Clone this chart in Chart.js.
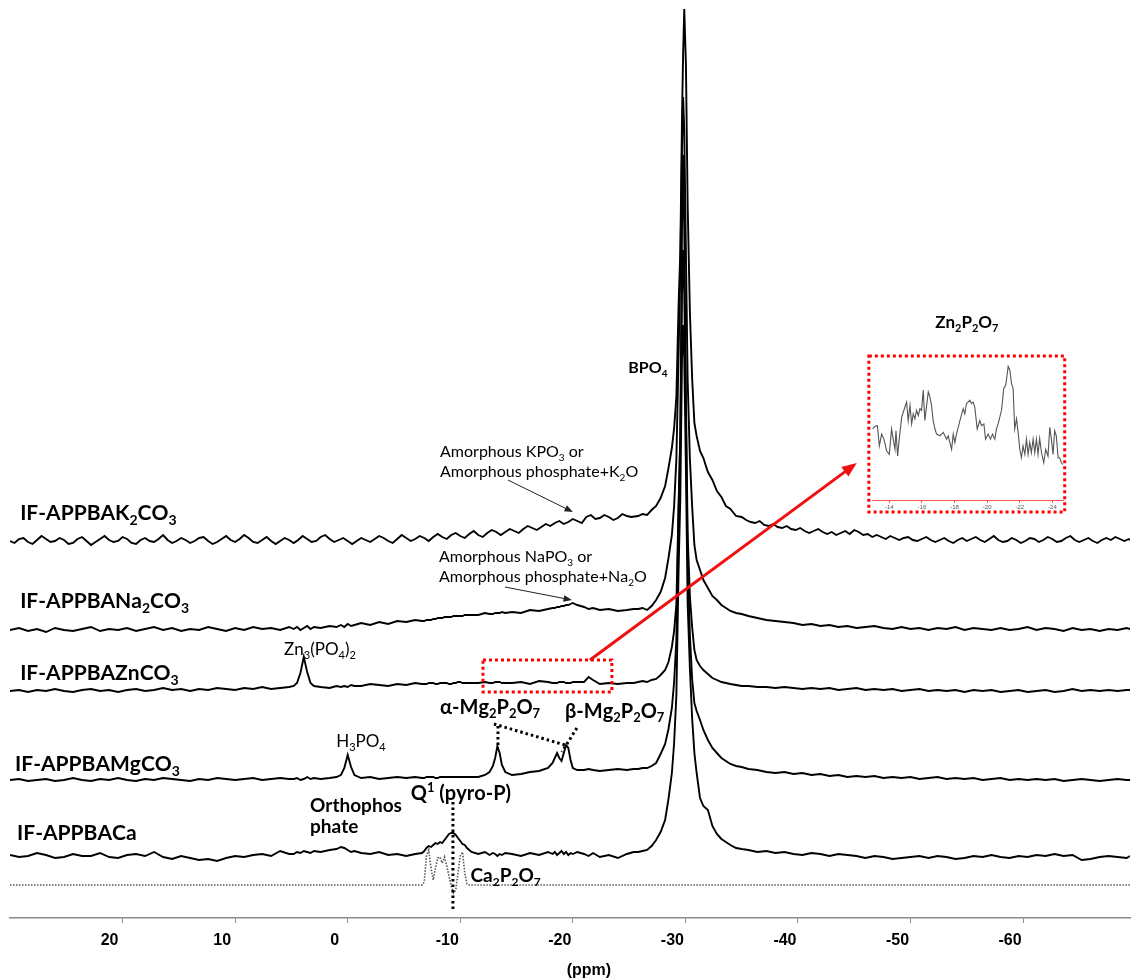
<!DOCTYPE html>
<html>
<head>
<meta charset="utf-8">
<title>31P NMR spectra</title>
<script src="https://cdn.jsdelivr.net/npm/chart.js@4/dist/chart.umd.min.js"></script>
<style>
  html, body { margin: 0; padding: 0; background: #fff; }
  #wrap { position: relative; width: 1132px; height: 979px; }
  #main { position: absolute; left: 0; top: 0; }
  #inset { position: absolute; }
</style>
</head>
<body>
<div id="wrap">
  <canvas id="main" width="1132" height="979"></canvas>
  <canvas id="inset"></canvas>
</div>
<script>
// chemical shift grid (ppm), shared by the Na, Zn, Mg and Ca spectra
const ppmGrid = [
  30, 29.2, 28.4, 27.6, 26.8, 26, 25.2, 24.4, 23.6, 22.8, 22, 21.2, 20.4, 19.6, 18.8, 18,
  17.2, 16.4, 15.6, 14.8, 14, 13.2, 12.4, 11.6, 10.8, 10, 9.2, 8.4, 7.6, 6.8, 6, 5.2,
  4.8, 4.5, 4.2, 3.9, 3.6, 3.3, 3,
  2.4, 1.6, 1,
  0.6, 0.3, 0, -0.3, -0.6,
  -1.2, -2, -2.8, -3.6, -4.4, -5.2, -6,
  -6.6, -6.8, -7, -7.2, -7.4, -7.6, -7.8, -8, -8.2, -8.4, -8.6, -8.8, -9, -9.2, -9.4, -9.6,
  -9.8, -10, -10.2, -10.4, -10.6, -10.8, -11,
  -11.6, -12.2,
  -12.6, -12.9, -13.1, -13.3, -13.5, -13.7, -14,
  -14.6, -15.4, -16.2, -17, -17.8,
  -18.2, -18.4, -18.6, -18.8, -19, -19.2, -19.4, -19.6, -19.8, -20, -20.4,
  -21, -21.4, -21.8, -22.4, -23.2, -24, -24.8, -25.4,
  -25.8, -26.2, -26.6, -27, -27.4, -27.8, -28.2, -28.5, -28.8, -29, -29.2, -29.4, -29.55, -29.7, -29.8, -29.9,
  -30.05, -30.2, -30.4, -30.6, -30.8, -31, -31.3, -31.6, -32, -32.4, -32.8, -33.2, -33.6, -34, -34.5, -35,
  -35.6, -36.4, -37.2, -38, -38.8, -39.6, -40.4, -41.2, -42, -42.8, -43.6, -44.4, -45.2, -46, -46.8,
  -47.6, -48.4, -49.2, -50, -50.8, -51.6, -52.4, -53.2, -54, -54.8, -55.6, -56.4, -57.2, -58, -58.8,
  -59.6, -60.4, -61.2, -62, -62.8, -63.6, -64.4, -65.2, -66, -66.8, -67.6, -68.4, -69.2, -69.5
];

// the noisier K2CO3 spectrum has its own, finer grid
const ppmK2CO3 = [
  30, 29.6, 29.2, 28.8, 28.4, 28, 27.6, 27.2, 26.8, 26.4,
  26, 25.6, 25.2, 24.8, 24.4, 24, 23.6, 23.2, 22.8, 22.4,
  22, 21.6, 21.2, 20.8, 20.4, 20, 19.6, 19.2, 18.8, 18.4,
  18, 17.6, 17.2, 16.8, 16.4, 16, 15.6, 15.2, 14.8, 14.4,
  14, 13.6, 13.2, 12.8, 12.4, 12, 11.6, 11.2, 10.8, 10.4,
  10, 9.6, 9.2, 8.8, 8.4, 8, 7.6, 7.2, 6.8, 6.4,
  6, 5.6, 5.2, 4.8, 4.4, 4, 3.6, 3.2, 2.8, 2.4,
  2, 1.6, 1.2, 0.8, 0.4, 0, -0.4, -0.8, -1.2, -1.6,
  -2, -2.4, -2.8, -3.2, -3.6, -4, -4.4, -4.8, -5.2, -5.6,
  -6, -6.4, -6.8, -7.2, -7.6, -8, -8.4, -8.8, -9.2, -9.6,
  -10, -10.4, -10.8, -11.2, -11.6, -12, -12.4, -12.8, -13.2, -13.6,
  -14, -14.4, -14.8, -15.2, -15.6, -16, -16.4, -16.8, -17.2, -17.6,
  -18, -18.4, -18.8, -19.2, -19.6, -20, -20.4, -20.8, -21.2, -21.6,
  -22, -22.4, -22.8, -23.2, -23.6, -24, -24.4, -24.8, -25.2,
  -25.8, -26.2, -26.6, -27, -27.4, -27.8, -28.2, -28.5, -28.8, -29, -29.2, -29.4, -29.55, -29.7, -29.8, -29.9,
  -30.05, -30.2, -30.4, -30.6, -30.8, -31, -31.3, -31.6, -32, -32.4, -32.8, -33.2, -33.6, -34, -34.5, -35,
  -35.4, -35.8, -36.2, -36.6, -37, -37.4, -37.8, -38.2, -38.6, -39,
  -39.4, -39.8, -40.2, -40.6, -41, -41.4, -41.8, -42.2, -42.6, -43,
  -43.4, -43.8, -44.2, -44.6, -45, -45.4, -45.8, -46.2, -46.6, -47,
  -47.4, -47.8, -48.2, -48.6, -49, -49.4, -49.8, -50.2, -50.6, -51,
  -51.4, -51.8, -52.2, -52.6, -53, -53.4, -53.8, -54.2, -54.6, -55,
  -55.4, -55.8, -56.2, -56.6, -57, -57.4, -57.8, -58.2, -58.6, -59,
  -59.4, -59.8, -60.2, -60.6, -61, -61.4, -61.8, -62.2, -62.6, -63,
  -63.4, -63.8, -64.2, -64.6, -65, -65.4, -65.8, -66.2, -66.6, -67,
  -67.4, -67.8, -68.2, -68.6, -69, -69.4, -69.5
];

// stacked intensities (arbitrary units, offsets included)
const intK2CO3 = [
  377, 375, 379, 380, 376, 374, 378, 382, 379, 376,
  377, 380, 378, 374, 375, 379, 381, 377, 373, 376,
  379, 382, 378, 376, 377, 381, 379, 375, 374, 378,
  380, 377, 376, 379, 383, 378, 375, 377, 380, 378,
  375, 377, 380, 381, 377, 374, 376, 379, 382, 378,
  376, 379, 383, 380, 376, 375, 378, 381, 377, 374,
  377, 380, 378, 375, 378, 382, 379, 376, 377, 381,
  383, 379, 376, 378, 380, 377, 374, 377, 380, 378,
  376, 379, 382, 380, 377, 375, 379, 383, 380, 377,
  379, 382, 380, 377, 381, 384, 381, 379, 383, 385,
  382, 380, 384, 387, 383, 381, 385, 388, 386, 383,
  386, 389, 387, 385, 389, 392, 390, 388, 391, 394,
  392, 395, 397, 394, 396, 399, 397, 395, 401, 403,
  399, 400, 403, 401, 398, 400, 404, 402, 401,
  402, 404, 403, 408, 412, 420, 432, 450, 470, 490, 521, 615, 665, 800, 865, 909,
  853, 715, 606, 540, 495, 482, 467, 460, 446, 438, 427, 421, 412, 409, 402, 401,
  398, 396, 395, 397, 393, 392, 394, 391, 390, 392,
  389, 388, 390, 387, 385, 387, 389, 386, 384, 386,
  383, 385, 387, 384, 388, 386, 383, 384, 381, 383,
  381, 379, 382, 380, 378, 380, 381, 378, 377, 379,
  381, 378, 376, 378, 380, 377, 375, 378, 380, 377,
  379, 381, 378, 376, 379, 382, 378, 376, 377, 380,
  378, 375, 377, 380, 379, 376, 378, 381, 379, 376,
  377, 380, 382, 378, 376, 378, 380, 377, 375, 378,
  380, 378, 381, 379, 377, 379, 378
];
const intNa2CO3 = [
  288, 290, 287, 289, 286, 290, 288, 287, 289, 291, 287, 289, 288, 290, 287, 289,
  291, 288, 290, 287, 289, 288, 291, 289, 287, 290, 288, 291, 289, 290, 288, 291,
  289, 291, 288, 290, 292, 289, 291,
  290, 292, 291,
  293, 291, 294, 292, 293,
  295, 293, 296, 294, 297, 296, 298,
  297, 297, 298, 298, 298, 299, 299, 300, 300, 300, 301, 301, 301, 301, 302, 302,
  302, 302, 302, 303, 303, 303, 303,
  303, 305,
  304, 304, 305, 305, 305, 306, 305,
  306, 305, 308, 307, 309,
  310, 310, 311, 311, 312, 312, 313, 313, 314, 315, 313,
  311, 309, 310, 308, 309, 307, 308, 309,
  309, 310, 308, 312, 318, 326, 340, 360, 383, 412, 459, 565, 650, 770, 821, 788,
  664, 539, 459, 412, 373, 358, 348, 338, 330, 322, 318, 313, 310, 307, 305, 304,
  302, 300, 298, 297, 296, 295, 293, 294, 292, 293, 291, 292, 290, 291, 292,
  290, 289, 291, 289, 290, 288, 290, 289, 291, 288, 290, 289, 288, 290, 288,
  289, 291, 288, 290, 289, 287, 290, 288, 289, 287, 289, 288, 290, 289
];
const intZnCO3 = [
  227, 228, 226, 228, 227, 229, 227, 226, 228, 229, 227, 228, 226, 228, 229, 227,
  228, 230, 228, 229, 227, 229, 228, 230, 229, 228, 230, 229, 231, 229, 230, 231,
  232, 235, 245, 261, 246, 235, 232,
  231, 230, 232,
  231, 232, 231, 233, 232,
  232, 234, 233, 232, 234, 233, 235,
  234, 234, 234, 235, 235, 235, 234, 234, 235, 235, 235, 235, 234, 234, 235, 235,
  236, 236, 235, 235, 235, 235, 235,
  235, 236,
  235, 235, 236, 236, 236, 235, 235,
  235, 236, 234, 237, 236,
  235, 235, 235, 236, 236, 236, 235, 235, 235, 236, 236,
  236, 241, 238, 234, 235, 234, 235, 235,
  236, 237, 236, 238, 239, 243, 248, 256, 271, 287, 314, 414, 482, 690, 763, 690,
  518, 384, 322, 291, 268, 258, 252, 248, 244, 240, 238, 236, 235, 234, 233, 232,
  232, 231, 231, 230, 231, 230, 229, 230, 229, 230, 228, 229, 230, 228, 229,
  228, 229, 227, 228, 229, 227, 228, 227, 228, 226, 228, 227, 228, 226, 227,
  228, 226, 227, 228, 226, 227, 229, 227, 228, 227, 228, 227, 228, 228
];
const intMgCO3 = [
  138, 139, 137, 138, 139, 137, 138, 140, 138, 137, 139, 138, 140, 138, 137, 139,
  138, 140, 139, 138, 137, 139, 138, 140, 139, 138, 139, 140, 138, 139, 140, 139,
  139, 140, 138, 139, 141, 139, 140,
  139, 140, 141,
  143, 150, 163, 151, 143,
  140, 141, 139, 140, 141, 140, 141,
  140, 140, 141, 141, 141, 141, 140, 140, 141, 141, 141, 141, 141, 141, 141, 141,
  141, 141, 141, 141, 141, 141, 141,
  141, 143,
  146, 152, 160, 172, 165, 153, 146,
  143, 144, 146, 147, 150,
  155, 160, 165, 160, 157, 165, 173, 170, 158, 150, 148,
  148, 149, 148, 147, 148, 149, 148, 149,
  149, 150, 150, 152, 155, 164, 174, 189, 210, 236, 278, 409, 482, 625, 668, 625,
  498, 362, 283, 239, 215, 207, 198, 188, 178, 170, 165, 160, 157, 154, 152, 151,
  149, 148, 146, 145, 146, 144, 145, 143, 144, 142, 143, 141, 142, 141, 142,
  140, 141, 140, 141, 139, 140, 141, 139, 140, 139, 140, 138, 139, 140, 138,
  139, 138, 139, 138, 139, 137, 138, 139, 138, 137, 138, 139, 138, 138
];
const intCa = [
  63, 61, 62, 65, 63, 60, 61, 64, 62, 62, 65, 61, 60, 63, 64, 62,
  66, 61, 59, 62, 60, 58, 59, 57, 60, 62, 61, 63, 64, 62, 67, 64,
  64, 66, 65, 67, 66, 65, 67,
  66, 68, 69,
  71, 70, 68, 66, 67,
  65, 64, 66, 63, 64, 62, 64,
  65, 67, 70, 72, 71, 73, 75, 74, 76, 75, 78, 81, 84, 85, 85, 83,
  80, 77, 74, 73, 70, 68, 66,
  64, 66,
  63, 65, 64, 62, 64, 63, 65,
  64, 62, 65, 63, 66,
  64, 66, 63, 65, 67, 64, 66, 63, 65, 64, 66,
  64, 62, 65, 61, 63, 60, 64, 66,
  66, 67, 68, 72, 78, 86, 98, 119, 145, 175, 223, 350, 420, 560, 593, 560,
  448, 315, 250, 200, 165, 145, 120, 112, 108, 92, 84, 79, 76, 73, 70, 69,
  68, 66, 67, 65, 66, 64, 63, 65, 64, 62, 64, 63, 62, 60, 62,
  61, 59, 60, 61, 62, 60, 62, 61, 59, 60, 62, 61, 63, 61, 60,
  62, 61, 63, 62, 64, 62, 63, 58, 59, 61, 62, 61, 60, 62
];

// Ca2P2O7 reference (dotted trace)
const refPpm = [30, -6.6, -6.8, -7, -7.2, -7.4, -7.6, -7.8, -8, -8.2, -8.4, -8.6, -8.8,
  -9, -9.2, -9.4, -9.6, -9.8, -10, -10.2, -10.4, -10.6, -10.8, -11, -69.5];
const refInt = [33, 33, 36, 62, 68, 50, 38, 50, 60, 61, 55, 61, 52,
  42, 32, 25, 28, 45, 62, 66, 45, 34, 33, 33, 33];

const tickVals = [20, 10, 0, -10, -20, -30, -40, -50, -60];

// zoomed Zn2P2O7 region (inset)
const insetPpm = [
  -12.98, -13.12, -13.27, -13.39, -13.53, -13.67, -13.84, -14.00, -14.14, -14.24, -14.35, -14.41,
  -14.51, -14.61, -14.76, -14.96, -15.06, -15.16, -15.27, -15.37, -15.47, -15.57, -15.67, -15.78,
  -15.88, -15.98, -16.08, -16.18, -16.29, -16.39, -16.49, -16.59, -16.69, -16.80, -16.90, -17.10,
  -17.31, -17.51, -17.61, -17.82, -17.92, -18.02, -18.12, -18.33, -18.53, -18.63, -18.73, -18.94,
  -19.04, -19.14, -19.24, -19.39, -19.55, -19.65, -19.80, -19.90, -20.06, -20.20, -20.33, -20.47,
  -20.57, -20.67, -20.88, -21.02, -21.14, -21.29, -21.39, -21.49, -21.59, -21.69, -21.80, -21.90,
  -22.00, -22.10, -22.20, -22.31, -22.41, -22.51, -22.61, -22.71, -22.82, -22.92, -23.02, -23.12,
  -23.22, -23.33, -23.47, -23.59, -23.73, -23.84, -23.94, -24.04, -24.14, -24.24, -24.35, -24.45,
  -24.55, -24.65
];
const insetInt = [
  210, 218, 220, 160, 195, 180, 145, 135, 210, 180, 150, 205,
  130, 180, 245, 275, 290, 235, 280, 225, 255, 240, 265, 250,
  270, 265, 325, 235, 280, 320, 305, 280, 235, 210, 195, 190,
  200, 180, 190, 150, 195, 170, 195, 235, 270, 255, 285, 295,
  285, 290, 275, 210, 235, 220, 225, 180, 195, 180, 195, 180,
  210, 225, 265, 330, 340, 395, 385, 345, 330, 210, 240, 200,
  150, 125, 160, 135, 180, 135, 170, 140, 180, 140, 180, 135,
  182, 140, 110, 150, 130, 215, 180, 135, 205, 190, 125, 125,
  110, 105
];
const insetTicks = [-14, -16, -18, -20, -22, -24];

// annotation texts, placed in data units (ppm, intensity)
const textNotes = [
  { t: 'IF-APPBAK_2CO_3', x: 29.1, y: 398, size: 21, w: 'bold' },
  { t: 'IF-APPBANa_2CO_3', x: 29.1, y: 310, size: 21, w: 'bold' },
  { t: 'IF-APPBAZnCO_3', x: 29.1, y: 238, size: 21, w: 'bold' },
  { t: 'IF-APPBAMgCO_3', x: 29.55, y: 147, size: 21, w: 'bold' },
  { t: 'IF-APPBACa', x: 29.37, y: 78, size: 21, w: 'bold' },
  { t: 'Amorphous KPO_3 or', x: -8.2, y: 461, size: 16, w: 'normal' },
  { t: 'Amorphous phosphate+K_2O', x: -8.2, y: 441, size: 16, w: 'normal' },
  { t: 'Amorphous NaPO_3 or', x: -8.11, y: 356, size: 16, w: 'normal' },
  { t: 'Amorphous phosphate+Na_2O', x: -8.11, y: 336, size: 16, w: 'normal' },
  { t: 'BPO_4', x: -26.67, y: 545, size: 16, w: 'bold', align: 'center' },
  { t: 'Zn_3(PO_4)_2', x: 2.46, y: 263, size: 17, w: 'normal', align: 'center' },
  { t: 'H_3PO_4', x: -1.18, y: 171, size: 17, w: 'normal', align: 'center' },
  { t: 'Orthophos', x: 3.35, y: 106, size: 19, w: 'bold' },
  { t: 'phate', x: 3.35, y: 85, size: 19, w: 'bold' },
  { t: 'Q^1 (pyro-P)', x: -10.06, y: 118, size: 20, w: 'bold', align: 'center' },
  { t: 'Ca_2P_2O_7', x: -10.91, y: 36, size: 19, w: 'bold' },
  { t: 'α-Mg_2P_2O_7', x: -8.2, y: 204, size: 20, w: 'bold' },
  { t: 'β-Mg_2P_2O_7', x: -19.3, y: 200, size: 20, w: 'bold' },
  { t: 'Zn_2P_2O_7', x: -55.0, y: 590, size: 17, w: 'bold', align: 'center' },
  { t: '(ppm)', x: -21.43, y: -57, size: 16, w: 'bold', align: 'center', fam: '"Liberation Sans", Arial, sans-serif' }
];
const dottedGuides = [
  [-13.35, 192, -13.35, 173],
  [-12.99, 194, -19.3, 173],
  [-20.36, 190, -19.03, 166],
  [-9.35, 116, -9.35, 7]
];
const blackArrows = [
  [-14.24, 438, -20.01, 406],
  [-13.97, 331, -19.92, 318]
];
const zoomBox = [-12.02, 258, -23.47, 226];
const insetBox = [-46.3, 562, -63.7, 406];
const redArrow = [-21.52, 258, -45.23, 455];

const FAM = 'Lato, "Open Sans", "DejaVu Sans", sans-serif';

function drawRich(ctx, text, x, y, size, weight, align, fam) {
  const parts = [];
  for (let i = 0; i < text.length; i++) {
    const c = text[i];
    if ((c === '_' || c === '^') && i + 1 < text.length) {
      parts.push({ t: text[i + 1], k: c });
      i++;
    } else {
      parts.push({ t: c, k: '' });
    }
  }
  const fontFor = k => weight + ' ' + (k ? Math.round(size * 0.65) : size) + 'px ' + (fam || FAM);
  let total = 0;
  parts.forEach(p => {
    ctx.font = fontFor(p.k);
    p.w = ctx.measureText(p.t).width;
    total += p.w;
  });
  let cx = align === 'center' ? x - total / 2 : x;
  ctx.textAlign = 'left';
  ctx.textBaseline = 'alphabetic';
  parts.forEach(p => {
    ctx.font = fontFor(p.k);
    const dy = p.k === '_' ? size * 0.22 : (p.k === '^' ? -size * 0.42 : 0);
    ctx.fillText(p.t, cx, y + dy);
    cx += p.w;
  });
}

function drawArrow(ctx, x1, y1, x2, y2, head, width, color) {
  const ang = Math.atan2(y2 - y1, x2 - x1);
  ctx.strokeStyle = color;
  ctx.fillStyle = color;
  ctx.lineWidth = width;
  ctx.setLineDash([]);
  ctx.beginPath();
  ctx.moveTo(x1, y1);
  ctx.lineTo(x2 - Math.cos(ang) * head * 0.8, y2 - Math.sin(ang) * head * 0.8);
  ctx.stroke();
  ctx.beginPath();
  ctx.moveTo(x2, y2);
  ctx.lineTo(x2 - head * Math.cos(ang - 0.38), y2 - head * Math.sin(ang - 0.38));
  ctx.lineTo(x2 - head * Math.cos(ang + 0.38), y2 - head * Math.sin(ang + 0.38));
  ctx.closePath();
  ctx.fill();
}

const annotationPlugin = {
  id: 'nmrAnnotations',
  afterDatasetsDraw(chart) {
    const ctx = chart.ctx;
    const X = v => chart.scales.x.getPixelForValue(v);
    const Y = v => chart.scales.y.getPixelForValue(v);
    ctx.save();

    // black dotted guides
    ctx.strokeStyle = '#000';
    ctx.lineWidth = 3;
    ctx.setLineDash([2.5, 3]);
    dottedGuides.forEach(g => {
      ctx.beginPath();
      ctx.moveTo(X(g[0]), Y(g[1]));
      ctx.lineTo(X(g[2]), Y(g[3]));
      ctx.stroke();
    });

    // thin pointer arrows
    blackArrows.forEach(a => drawArrow(ctx, X(a[0]), Y(a[1]), X(a[2]), Y(a[3]), 9, 1, '#222'));

    // red dotted boxes
    ctx.strokeStyle = '#ff0000';
    ctx.lineWidth = 3;
    ctx.setLineDash([3, 3]);
    [zoomBox, insetBox].forEach(b => {
      const x1 = X(b[0]), y1 = Y(b[1]), x2 = X(b[2]), y2 = Y(b[3]);
      ctx.strokeRect(x1, y1, x2 - x1, y2 - y1);
    });

    // red arrow to inset
    drawArrow(ctx, X(redArrow[0]), Y(redArrow[1]), X(redArrow[2]), Y(redArrow[3]), 16, 3, '#f01010');

    // texts
    ctx.fillStyle = '#000';
    textNotes.forEach(n => drawRich(ctx, n.t, X(n.x), Y(n.y), n.size, n.w, n.align, n.fam));
    ctx.restore();
  }
};

function makeSet(xs, values, width) {
  return {
    data: xs.map((p, i) => ({ x: p, y: values[i] })),
    borderColor: '#000',
    borderWidth: width,
    pointRadius: 0,
    fill: false
  };
}

const mainChart = new Chart(document.getElementById('main'), {
  type: 'line',
  data: {
    datasets: [
      {
        data: refPpm.map((p, i) => ({ x: p, y: refInt[i] })),
        borderColor: '#555',
        borderWidth: 1.6,
        borderDash: [1.5, 1.5],
        pointRadius: 0,
        fill: false
      },
      makeSet(ppmGrid, intCa, 1.9),
      makeSet(ppmGrid, intMgCO3, 1.9),
      makeSet(ppmGrid, intZnCO3, 1.9),
      makeSet(ppmGrid, intNa2CO3, 1.9),
      makeSet(ppmK2CO3, intK2CO3, 1.9)
    ]
  },
  options: {
    responsive: false,
    animation: false,
    layout: { padding: { left: 10, right: 2, top: 0, bottom: 0 } },
    plugins: { legend: { display: false }, tooltip: { enabled: false } },
    elements: { line: { tension: 0 } },
    scales: {
      x: {
        type: 'linear',
        reverse: true,
        min: -69.5,
        max: 30,
        afterBuildTicks: axis => { axis.ticks = tickVals.map(v => ({ value: v })); },
        afterFit: axis => { axis.height = 61; },
        border: { color: '#8a8a8a', width: 1.5 },
        grid: { drawOnChartArea: false, drawTicks: true, tickLength: 5, color: '#8a8a8a', lineWidth: 1 },
        ticks: {
          autoSkip: false,
          maxRotation: 0,
          padding: 8,
          labelOffset: -13,
          color: '#000',
          font: { family: '"Liberation Sans", Arial, sans-serif', size: 16, weight: 'bold' },
          callback: v => String(v)
        }
      },
      y: { display: false, min: 0, max: 918 }
    }
  },
  plugins: [annotationPlugin]
});

// inset placed on the red dotted box
const sx = mainChart.scales.x, sy = mainChart.scales.y;
const bx = Math.round(sx.getPixelForValue(insetBox[0]));
const by = Math.round(sy.getPixelForValue(insetBox[1]));
const bw = Math.round(sx.getPixelForValue(insetBox[2])) - bx;
const bh = Math.round(sy.getPixelForValue(insetBox[3])) - by;
const insetCanvas = document.getElementById('inset');
insetCanvas.width = bw;
insetCanvas.height = bh;
insetCanvas.style.left = bx + 'px';
insetCanvas.style.top = by + 'px';

new Chart(insetCanvas, {
  type: 'line',
  data: {
    datasets: [{
      data: insetPpm.map((p, i) => ({ x: p, y: insetInt[i] })),
      borderColor: '#555',
      borderWidth: 1.1,
      pointRadius: 0,
      fill: false
    }]
  },
  options: {
    responsive: false,
    animation: false,
    layout: { padding: { left: 3, right: 2, top: 2, bottom: 0 } },
    plugins: { legend: { display: false }, tooltip: { enabled: false } },
    elements: { line: { tension: 0 } },
    scales: {
      x: {
        type: 'linear',
        reverse: true,
        min: -24.65,
        max: -12.94,
        afterBuildTicks: axis => { axis.ticks = insetTicks.map(v => ({ value: v })); },
        afterFit: axis => { axis.height = 12; },
        border: { color: '#ff5050', width: 1 },
        grid: { drawOnChartArea: false, tickLength: 3, color: '#ff5050', lineWidth: 1 },
        ticks: {
          autoSkip: false,
          maxRotation: 0,
          padding: 1,
          color: '#555',
          font: { family: '"Liberation Sans", Arial, sans-serif', size: 6 },
          callback: v => String(v)
        }
      },
      y: { display: false, min: 0, max: 420 }
    }
  }
});
</script>
</body>
</html>
